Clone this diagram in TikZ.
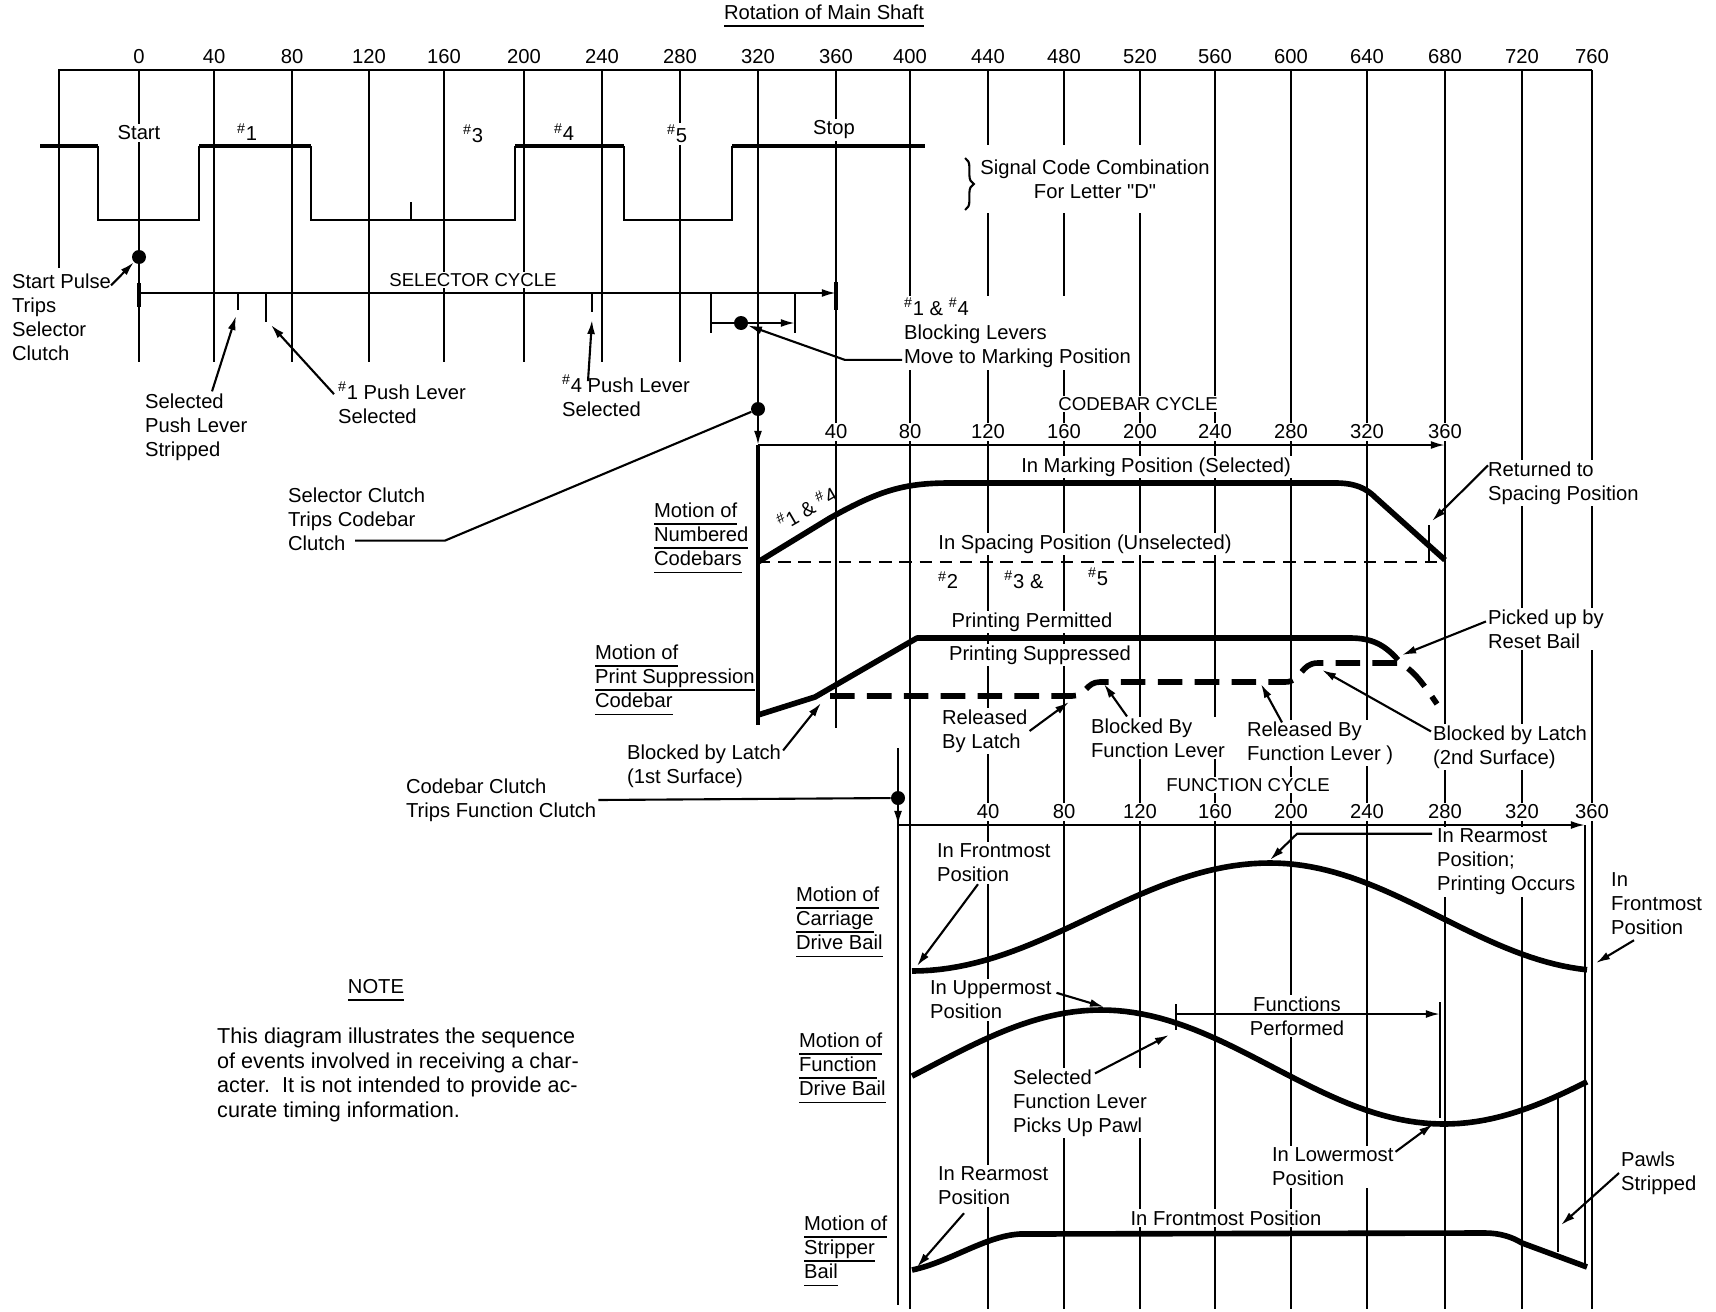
\documentclass[tikz,border=0pt]{standalone}
\usepackage{fontspec}
\setmainfont{Liberation Sans}
\usetikzlibrary{positioning,calc,arrows.meta,decorations.pathreplacing}
\newcommand\numsign{\textsuperscript{\#}}
\newcommand\uln[1]{\setbox0\hbox{#1}\rlap{\rule[-4.2pt]{\wd0}{0.9pt}}\box0}
\begin{document}
\begin{tikzpicture}[x=0.02cm,y=-0.02cm,
  every node/.style={font=\fontsize{11.5}{13.7}\selectfont},
  grid/.style={line width=1pt},
  ln/.style={line width=1.2pt},
  leader/.style={ln,-{Latex[length=8pt,width=4.5pt]}},
  curve/.style={line width=3.2pt,line join=round},
  high/.style={line width=2.8pt},
  lbl/.style={fill=white,inner sep=1pt,align=left,anchor=west},
  ctr/.style={fill=white,inner sep=1pt,align=center},
  cyc/.style={ctr,font=\fontsize{10.6}{13.7}\selectfont},
  deg/.style={fill=white,inner sep=1pt},
  dot/.style={circle,fill,inner sep=0pt,minimum size=0.28cm}]
\useasboundingbox (0,0) rectangle (1716,1311);

% degree positions on the main shaft
\foreach \d/\x in {0/139,40/214,80/292,120/369,160/444,200/524,240/602,280/680,320/758,360/836,
  400/910,440/988,480/1064,520/1140,560/1215,600/1291,640/1367,680/1445,720/1522,760/1592}
  \coordinate (g\d) at (\x,70);

\node[dot] (sd) at (g0 |- 0,257) {};
\node[dot] (bd) at (741,323) {};
\node[dot] (cd) at (g320 |- 0,409) {};
\node[dot] (fd) at (898,798) {};

% grid
\draw[grid] (59,268) |- (g760);
\foreach \d in {0,40,...,280} \draw[grid] (g\d) -- (g\d |- 0,362);
\draw[grid] (g320) -- (cd);
\draw[grid] (g360) -- (g360 |- 0,728);
\foreach \d in {400,440,...,760} \draw[grid] (g\d) -- (g\d |- 0,1309);
\draw[grid] (fd |- 0,748) -- (fd |- 0,1305);

% signal code
\draw[ln] (98,146) -- (98,220) -- (199,220) -- (199,146)
  (311,146) -- (311,220) -- (515,220) -- (515,146)
  (624,146) -- (624,220) -- (732,220) -- (732,146)
  (411,220) -- (411,202);
\draw[high] (40,146) -- (98,146) (199,146) -- (311,146) (515,146) -- (624,146) (732,146) -- (925,146);
\draw[ln,decorate,decoration={brace,amplitude=5pt}] (965,158) -- (965,210);

% labels
\node (title) at (824,16) {\uln{Rotation of Main Shaft}};
\foreach \d in {0,40,...,760} \node[deg] (t\d) at (g\d |- 0,57) {\d};
\foreach \d [evaluate=\d as \m using int(\d+320)] in {40,80,...,360}
  \node[deg] (c\d) at (g\m |- 0,432) {\d};
\foreach \d [evaluate=\d as \m using int(\d+400)] in {40,80,...,360}
  \node[deg] (f\d) at (g\m |- 0,812) {\d};

\node[deg] (start) at (139,133) {Start};
\node[deg] (s1) at (247,132) {\numsign1};
\node[deg] (s3) at (473,134) {\numsign3};
\node[deg] (s4) at (564,132) {\numsign4};
\node[deg] (s5) at (677,134) {\numsign5};
\node[deg] (stop) at (834,130) {Stop};
\node[ctr,inner ysep=0.3cm] (sig) at (1095,179) {Signal Code Combination\\For Letter \textquotedbl D\textquotedbl};

\node[lbl] (spt) at (10,317) {Start Pulse\\Trips\\Selector\\Clutch};
\node[cyc] (selcyc) at (473,280) {SELECTOR CYCLE};
\node[lbl] (strip) at (143,427) {Selected\\Push Lever\\Stripped};
\node[lbl] (pl1) at (336,403) {\numsign1 Push Lever\\Selected};
\node[lbl] (pl4) at (560,396) {\numsign4 Push Lever\\Selected};
\node[lbl] (blk) at (902,333) {\numsign1 \& \numsign4\\Blocking Levers\\Move to Marking Position};

\node[lbl] (sctc) at (286,519) {Selector Clutch\\Trips Codebar\\Clutch};
\node[cyc] (cbcyc) at (1138,404) {CODEBAR CYCLE};
\node[lbl] (mnc) at (652,538) {\uln{Motion of}\\\uln{Numbered}\\\uln{Codebars}};
\node[rotate=30,inner sep=0pt] (n14) at (807,508) {\numsign1 \& \numsign4};
\node[ctr] (mark) at (1156,467) {In Marking Position (Selected)};
\node[ctr] (space) at (1085,544) {In Spacing Position (Unselected)};
\node[deg] (b2) at (948,580) {\numsign2};
\node[deg] (b3) at (1024,580) {\numsign3 \&};
\node[deg] (b5) at (1098,577) {\numsign5};
\node[lbl] (ret) at (1486,483) {Returned to\\Spacing Position};

\node[lbl] (mps) at (593,680) {\uln{Motion of}\\\uln{Print Suppression}\\\uln{Codebar}};
\node[ctr] (perm) at (1032,622) {Printing Permitted};
\node[ctr,below=0.2cm of perm,xshift=0.16cm] (supp) {Printing Suppressed};
\node[lbl] (pick) at (1486,629) {Picked up by\\Reset Bail};
\node[lbl] (rlat) at (940,731) {Released\\By Latch};
\node[lbl] (bfl) at (1089,738) {Blocked By\\Function Lever};
\node[lbl] (rfl) at (1245,743) {Released By\\Function Lever )};
\node[lbl] (bl2) at (1431,747) {Blocked by Latch\\(2nd Surface)};
\node[lbl] (bl1) at (625,766) {Blocked by Latch\\(1st Surface)};

\node[lbl] (cctf) at (404,800) {Codebar Clutch\\Trips Function Clutch};
\node[cyc] (fncyc) at (1248,785) {FUNCTION CYCLE};
\node[lbl] (mcdb) at (794,922) {\uln{Motion of}\\\uln{Carriage}\\\uln{Drive Bail}};
\node[lbl] (fr1) at (935,863) {In Frontmost\\Position};
\node[lbl] (rear1) at (1435,862) {In Rearmost\\Position;\\Printing Occurs};
\node[lbl] (fr2) at (1609,904) {In\\Frontmost\\Position};
\node[lbl] (mfdb) at (797,1068) {\uln{Motion of}\\\uln{Function}\\\uln{Drive Bail}};
\node[lbl] (upp) at (928,1000) {In Uppermost\\Position};
\node[ctr] (funcs) at (1297,1016) {Functions\\Performed};
\node[lbl] (sflp) at (1011,1103) {Selected\\Function Lever\\Picks Up Pawl};
\node[lbl] (low) at (1270,1167) {In Lowermost\\Position};
\node[lbl] (msb) at (802,1251) {\uln{Motion of}\\\uln{Stripper}\\\uln{Bail}};
\node[lbl] (rear2) at (936,1186) {In Rearmost\\Position};
\node[ctr] (ffp) at (1226,1218) {In Frontmost Position};
\node[lbl] (pawl) at (1619,1173) {Pawls\\Stripped};

\node (note) at (376,990) {\uln{NOTE}};
\node[anchor=west,align=left,font=\fontsize{12.3}{14}\selectfont] (ntext) at (211,1075)
  {This diagram illustrates the sequence\\of events involved in receiving a char-\\
  acter.\ \ It is not intended to provide ac-\\curate timing information.};

% selector cycle
\coordinate (s0) at (g0 |- 0,293);
\coordinate (s9) at (g360 |- 0,293);
\draw[leader] (s0) -- (s9);
\draw[line width=2.2pt] (g0 |- 0,283) -- (g0 |- 0,307) (g360 |- 0,282) -- (g360 |- 0,310);
\draw[ln] (238,293) -- (238,310) (266,293) -- (266,322) (592,293) -- (592,312)
  (711,293) -- (711,333) (795,293) -- (795,333);
\draw[leader] (711,323) -- (795,323);
\coordinate (tstrip) at (236,316);
\coordinate (tpl1) at (271,325);
\coordinate (tpl4) at (592,320);
\draw[leader] ($(spt.north east)+(-2,14)$) -- (sd);
\draw[leader] ($(strip.north west)+(69,0)$) -- (tstrip);
\draw[leader] ($(pl1.north west)+(-2,14)$) -- (tpl1);
\draw[leader] ($(pl4.north west)+(28,8)$) -- (tpl4);
\draw[leader] ($(blk.south west)+(0,-10)$) -- ++(-57,0) -- (bd);

% codebar cycle
\coordinate (cb0) at (g320 |- 0,445);
\coordinate (cb9) at (g680 |- 0,445);
\draw[ln] ($(sctc.south west)+(69,-12)$) -- ++(90,0) -- (cd);
\draw[leader] (cd) -- (cb0);
\draw[leader] (cb0) -- (cb9);
\draw[line width=2.5pt] (cb0) -- (g320 |- 0,725);
\draw[ln,dash pattern=on 7pt off 4.5pt] (cb0 |- 0,562) -- (g680 |- 0,562);
\draw[curve] (cb0 |- 0,562) -- (830,518) .. controls (880,490) and (905,483) .. (950,483)
  -- (1335,483) .. controls (1355,483) and (1366,488) .. (1376,498) -- (g680 |- 0,560);
\draw[ln] (1429,525) -- (1429,562);
\coordinate (tret) at (1432,521);
\draw[leader] ($(ret.north west)+(2,6)$) -- (tret);

\draw[curve] (cb0 |- 0,715) -- (815,697) -- (917,638) -- (1350,638)
  .. controls (1372,638) and (1385,645) .. (1398,660);
\draw[curve,dash pattern=on 14pt off 7pt] (830,696) -- (1072,696)
  .. controls (1086,696) and (1086,682) .. (1100,682) -- (1285,682)
  .. controls (1302,682) and (1300,663) .. (1318,663) -- (1398,663)
  .. controls (1412,668) and (1422,682) .. (1437,704);
\coordinate (tpick) at (1402,655);
\coordinate (trlat) at (1069,702);
\coordinate (tbfl) at (1104,684);
\coordinate (trfl) at (1261,684);
\coordinate (tbl2) at (1322,670);
\coordinate (tbl1) at (821,703);
\draw[leader] ($(pick.north west)+(0,14)$) -- (tpick);
\draw[leader] (rlat.east) -- (trlat);
\draw[leader] ($(bfl.north west)+(38,0)$) -- (tbfl);
\draw[leader] ($(rfl.north west)+(37,3)$) -- (trfl);
\draw[leader] ($(bl2.north west)+(0,8)$) -- (tbl2);
\draw[leader] ($(bl1.north east)+(0,8)$) -- (tbl1);

% function cycle
\coordinate (fa0) at (fd |- 0,825);
\coordinate (fa9) at (1585,825);
\draw[ln] (cctf.east) -- (fd);
\draw[leader] (fd) -- (fa0);
\draw[leader] (fa0) -- (fa9);
\draw[grid] (fa9) -- (1585,1267);

\draw[curve] plot[domain=912:1270,samples=40] (\x,{917-54*cos((\x-1270)/358*180)})
  -- plot[domain=1270:1587,samples=40] (\x,{917-54*cos((\x-1270)/340*180)});
\draw[curve] plot[domain=912:1587,samples=80] (\x,{1067-57*cos((\x-1101)/343*180)});
\draw[curve] (912,1270) .. controls (950,1262) and (985,1236) .. (1020,1234) -- (1485,1233)
  .. controls (1500,1233) and (1512,1237) .. (1522,1243) -- (1587,1267);
\draw[grid] (1558,1096) -- (1558,1252);
\draw[ln] (1176,1004) -- (1176,1030) (1440,1002) -- (1440,1118);
\draw[leader] (1176,1014) -- (1440,1014);

\coordinate (tfr1) at (917,966);
\coordinate (trear1) at (1270,860);
\coordinate (tfr2) at (1596,963);
\coordinate (tupp) at (1104,1007);
\coordinate (tsflp) at (1169,1035);
\coordinate (tlow) at (1433,1124);
\coordinate (trear2) at (917,1267);
\coordinate (tpawl) at (1561,1225);
\draw[leader] ($(fr1.south west)+(43,0)$) -- (tfr1);
\draw[leader] ($(rear1.north west)+(-3,7)$) -- ++(-135,0) -- (trear1);
\draw[leader] ($(fr2.south west)+(25,3)$) -- (tfr2);
\draw[leader] ($(upp.north east)+(3,14)$) -- (tupp);
\draw[leader] ($(sflp.north west)+(84,6)$) -- (tsflp);
\draw[leader] ($(low.north east)+(0,6)$) -- (tlow);
\draw[leader] ($(rear2.south west)+(28,6)$) -- (trear2);
\draw[leader] (pawl.west) -- (tpawl);
\end{tikzpicture}
\end{document}
